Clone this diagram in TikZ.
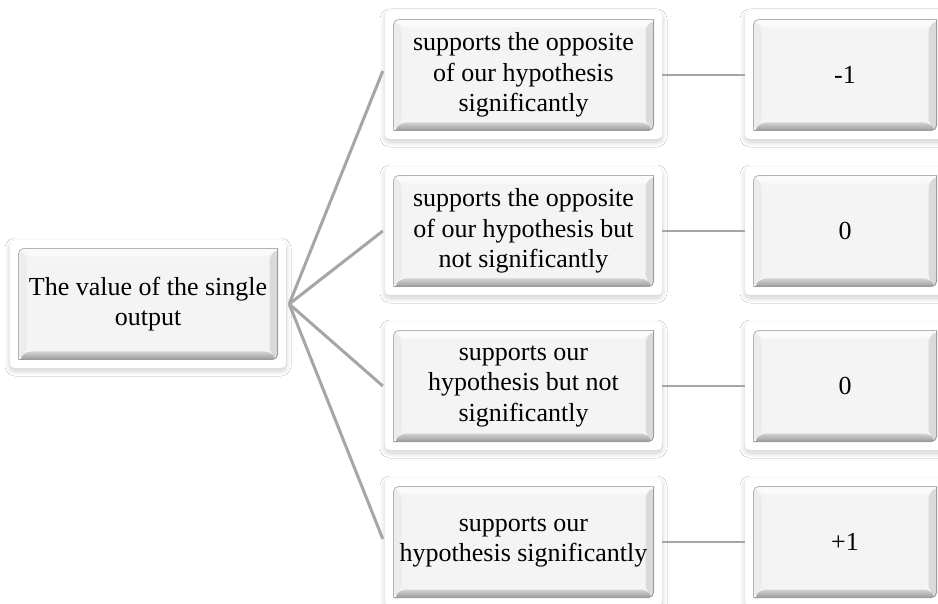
\documentclass[tikz,border=0pt]{standalone}
\usepackage{fontspec}
\setmainfont{Liberation Serif}
\usetikzlibrary{shadows.blur}
\definecolor{facecol}{HTML}{F4F4F4}
\definecolor{topcol}{HTML}{FAFAFA}
\definecolor{leftcol}{HTML}{ECECEC}
\definecolor{rightcol}{HTML}{DADADA}
\definecolor{botlight}{HTML}{D2D2D2}
\definecolor{botdark}{HTML}{9C9C9C}
\definecolor{edgecol}{HTML}{B4B4B4}
\definecolor{linecol}{HTML}{A6A6A6}
\tikzset{
  bevelbox/.style={
    rectangle, rounded corners=5pt, fill=white,
    minimum width=277pt, minimum height=128pt, inner sep=0pt,
    align=center, font=\fontsize{26}{30.5}\selectfont,
    blur shadow={shadow xshift=0pt, shadow yshift=-3pt, shadow blur radius=5pt, shadow blur steps=24, shadow opacity=20},
    path picture={
      \path (path picture bounding box.north west) ++(8.5pt,-8.5pt) coordinate (bA)
            (path picture bounding box.south east) ++(-8.5pt,8.5pt) coordinate (bB);
      \path (bA) ++(8pt,-8pt) coordinate (bC)
            (bB) ++(-8pt,8pt) coordinate (bD);
      \fill[facecol] (bA) rectangle (bB);
      \fill[topcol] (bA) -- (bA-|bB) -- (bC-|bD) -- (bC) -- cycle;
      \fill[leftcol] (bA) -- (bC) -- (bC|-bD) -- (bA|-bB) -- cycle;
      \fill[rightcol] (bA-|bB) -- (bB) -- (bD) -- (bC-|bD) -- cycle;
      \shade[top color=botlight, bottom color=botdark] (bA|-bB) -- (bB) -- (bD) -- (bC|-bD) -- cycle;
      \draw[edgecol, line width=0.8pt] (bA|-bB) -- (bA) -- (bA-|bB);
      \draw[botdark, line width=1pt] (bA|-bB) -- (bB) -- (bA-|bB);
    }
  },
  fanline/.style={draw=linecol, line width=3pt},
  linkline/.style={draw=linecol, line width=2pt}
}
\begin{document}
\begin{tikzpicture}[x=1pt,y=-1pt]
\useasboundingbox (0,0) rectangle (938,604);
\fill[white] (0,0) rectangle (938,604);
\clip (0,0) rectangle (938,604);
\node[bevelbox, minimum width=276pt] (root) at (148,304) {The value of the single\\output};
\node[bevelbox] (m1) at (523.5,75) {supports the opposite\\of our hypothesis\\significantly};
\node[bevelbox] (m2) at (523.5,231) {supports the opposite\\of our hypothesis but\\not significantly};
\node[bevelbox] (m3) at (523.5,386) {supports our\\hypothesis but not\\significantly};
\node[bevelbox] (m4) at (523.5,542) {supports our\\hypothesis significantly};
\node[bevelbox, minimum width=200pt] (r1) at (845,75) {-1};
\node[bevelbox, minimum width=200pt] (r2) at (845,231) {0};
\node[bevelbox, minimum width=200pt] (r3) at (845,386) {0};
\node[bevelbox, minimum width=200pt] (r4) at (845,542) {+1};
\coordinate (hub) at ([xshift=3pt]root.east);
\draw[fanline] (hub) -- ([xshift=-2pt,yshift=4pt]m1.west);
\draw[fanline] (hub) -- ([xshift=-2pt]m2.west);
\draw[fanline] (hub) -- ([xshift=-2pt]m3.west);
\draw[fanline] (hub) -- ([xshift=-2pt,yshift=3pt]m4.west);
\draw[linkline] (m1.east) -- (r1.west);
\draw[linkline] (m2.east) -- (r2.west);
\draw[linkline] (m3.east) -- (r3.west);
\draw[linkline] (m4.east) -- (r4.west);
\end{tikzpicture}
\end{document}
